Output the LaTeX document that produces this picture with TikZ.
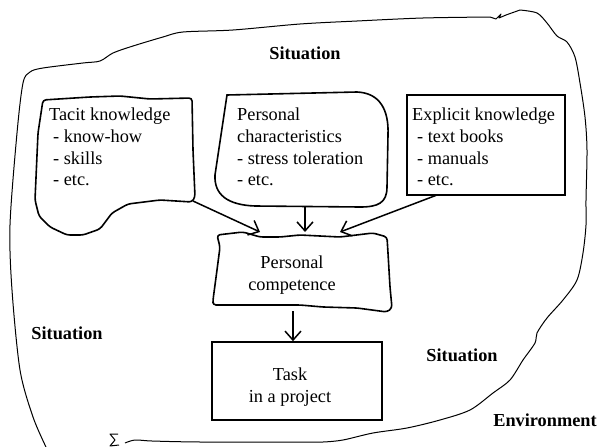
\documentclass[tikz,border=0pt]{standalone}
\usepackage{fontspec}
\setmainfont{Liberation Serif}
\usetikzlibrary{arrows.meta}
\tikzset{
  handbox/.style={line width=1.6pt, line join=round, rounded corners=3pt},
  plainbox/.style={draw, rectangle, line width=1.6pt, inner sep=0pt},
  boxtext/.style={inner sep=0pt, align=left, anchor=north west, font=\fontsize{18.3}{21.6}\selectfont},
  sitlabel/.style={inner sep=0pt, font=\fontsize{18.3}{21.6}\selectfont\bfseries},
  flowarrow/.style={-{Straight Barb[length=9pt,width=16pt]}, line width=1.5pt},
  envline/.style={line width=1pt, line join=round}
}
\begin{document}
\begin{tikzpicture}[x=1pt, y=-1pt]
  \useasboundingbox (0,0) rectangle (598,447);

  % environment outline
  \draw[envline] plot[smooth, tension=0.5] coordinates {(46,447) (33,417) (20,370) (12,290) (10,225)
      (17,133) (23,83) (30,72) (43,68) (83,63) (100,61) (113,53) (133,46) (163,37) (183,32)
      (233,30) (300,24) (357,21) (423,18) (490,17)}
    -- (496,19) -- (501,14) -- (499,18) -- (506,15)
    -- plot[smooth, tension=0.5] coordinates {(520,10) (537,13) (547,23) (557,36) (567,42)
      (575,57) (580,83) (585,117) (587,150) (586,200) (586,225) (583,253) (577,280) (563,300)
      (547,318) (537,333) (535,343) (523,360) (510,380) (493,393) (470,410) (440,420) (407,428)
      (373,433) (343,440) (323,442) (300,442) (200,442) (152,441) (135,440) (125,443)};
  \draw[envline] (118,434) -- (110,434) -- (115,440) -- (110,446) -- (119,445);

  % tacit knowledge
  \draw[handbox] (43,100) -- (90,97) -- (120,96) -- (150,99) -- (192,98) -- (193,150)
    -- (195,197) -- (192,202) -- (160,200) -- (128,204) -- (112,213) -- (100,229)
    -- (83,235) -- (67,235) -- (50,227) -- (39,216) -- (35,200) -- (38,133) -- cycle;
  \node[boxtext] (tacit) at (49,108) {Tacit knowledge\\\hspace{4pt}- know-how\\\hspace{4pt}- skills\\\hspace{4pt}- etc.};
  \coordinate (tacitfoot) at (193,201);

  % personal characteristics
  \draw[line width=1.6pt] (227,95) -- (357,92) .. controls (380,93) and (389,110) .. (388,135)
    -- (387,187) .. controls (387,203) and (378,207) .. (360,207) -- (255,206)
    .. controls (228,205) and (214,195) .. (215,175) -- cycle;
  \node[boxtext] (traits) at (237,108) {Personal\\characteristics\\- stress toleration\\- etc.};
  \coordinate (traitsfoot) at (305,207);

  % explicit knowledge
  \node[plainbox, minimum width=158pt, minimum height=100pt] (explicit) at (486,145) {};
  \node[boxtext] (explicittxt) at (412,108) {Explicit knowledge\\\hspace{5pt}- text books\\\hspace{5pt}- manuals\\\hspace{5pt}- etc.};
  \coordinate (explicitfoot) at (437,195);

  % personal competence
  \draw[handbox] (217,235) -- (243,232) -- (260,237) -- (280,237) -- (300,235) -- (340,237)
    -- (373,233) -- (387,237) -- (388,253) -- (390,287) -- (392,308) -- (387,312)
    -- (357,308) -- (323,307) -- (300,305) -- (233,305) -- (213,305) -- (213,300)
    -- (217,270) -- (220,247) -- cycle;
  \node[inner sep=0pt, align=center, font=\fontsize{18.3}{21.6}\selectfont] (comp) at (292,275) {Personal\\competence};
  \coordinate (compleft) at (260,232);
  \coordinate (comptop) at (305,232);
  \coordinate (compright) at (340,232);
  \coordinate (compfoot) at (293,311);

  % task
  \node[plainbox, minimum width=170pt, minimum height=78pt] (task) at (297,381) {};
  \node[inner sep=0pt, align=center, font=\fontsize{18.3}{21.6}\selectfont] (tasktxt) at (290,387) {Task\\in a project};

  % arrows
  \draw[flowarrow] (tacitfoot) -- (compleft);
  \draw[flowarrow] (traitsfoot) -- (comptop);
  \draw[flowarrow] (explicitfoot) -- (compright);
  \draw[flowarrow] (compfoot) -- (task.north -| compfoot);

  % labels
  \node[sitlabel] (sittop) at (305,53) {Situation};
  \node[sitlabel] (sitleft) at (67,333) {Situation};
  \node[sitlabel] (sitright) at (462,355) {Situation};
  \node[sitlabel] (env) at (545,420) {Environment};
\end{tikzpicture}
\end{document}
